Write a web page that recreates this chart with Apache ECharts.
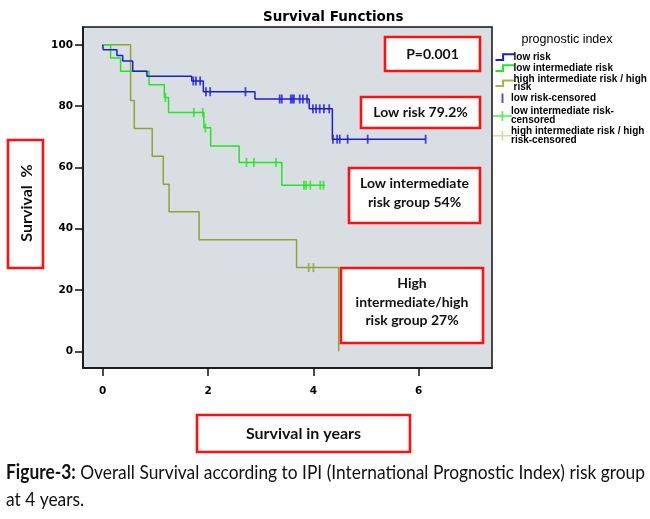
<!DOCTYPE html>
<html>
<head>
<meta charset="utf-8">
<script src="https://cdn.jsdelivr.net/npm/echarts@6/dist/echarts.min.js"></script>
<style>
html, body { margin: 0; padding: 0; background: #fff; }
#chart { width: 650px; height: 519px; }
</style>
</head>
<body>
<div id="chart"></div>
<script>
// survival steps (years, % surviving)
const lowTime = [0, 0.01, 0.27, 0.38, 0.57, 0.84, 1.69, 1.91, 2.89, 3.92, 4.36, 6.13]
const lowSurv = [100, 98.4, 96.5, 94.7, 91.4, 89.7, 88.2, 84.7, 82.3, 79.1, 69.2, 69.2]
const lowCensored = [1.72, 1.77, 1.85, 1.96, 2.04, 2.71, 3.36, 3.40, 3.57, 3.60, 3.63, 3.74, 3.80, 3.88,
    3.99, 4.05, 4.12, 4.20, 4.30, 4.37, 4.45, 4.50, 4.65, 5.03, 6.13]

const midTime = [0, 0.15, 0.34, 0.88, 1.17, 1.25, 1.92, 2.05, 2.59, 3.40, 4.22]
const midSurv = [100, 95.7, 91.4, 87.0, 82.8, 77.9, 72.9, 67.0, 61.6, 54.2, 54.2]
const midCensored = [1.19, 1.73, 1.90, 1.95, 2.73, 2.87, 3.29, 3.82, 3.86, 3.94, 4.13, 4.19]

const highTime = [0, 0.53, 0.60, 0.94, 1.15, 1.26, 1.83, 3.68, 4.48]
const highSurv = [100, 81.8, 72.7, 63.6, 54.5, 45.5, 36.4, 27.3, 0]
const highCensored = [3.91, 4.00]

const xTicks = [0, 2, 4, 6]
const yTicks = [0, 20, 40, 60, 80, 100]

const groupNames = ['low risk', 'low intermediate risk', 'high intermediate risk / high risk']
const censoredNames = ['low risk-censored', 'low intermediate risk-censored', 'high intermediate risk / high risk-censored']

const BLUE = '#1c1ce0'
const GREEN = '#22e622'
const OLIVE = '#8fa33a'
const RED = '#ff1010'

// value of the step curve at time t (censor marks sit on the curve)
function survAt(times, surv, t) {
    let s = surv[0]
    for (let i = 0; i < times.length; i++) {
        if (times[i] <= t) s = surv[i]
    }
    return s
}
const zip = (a, b) => a.map((v, i) => [v, b[i]])

const curves = [
    { time: lowTime, surv: lowSurv, cens: lowCensored, color: BLUE },
    { time: midTime, surv: midSurv, cens: midCensored, color: GREEN },
    { time: highTime, surv: highSurv, cens: highCensored, color: OLIVE }
]

const series = []
curves.forEach((c, i) => {
    series.push({
        type: 'line',
        name: groupNames[i],
        step: 'end',
        symbol: 'none',
        data: zip(c.time, c.surv),
        lineStyle: { color: c.color, width: 1.5 },
        itemStyle: { color: c.color },
        z: 3 - i
    })
})
curves.forEach((c, i) => {
    series.push({
        type: 'scatter',
        name: censoredNames[i],
        symbol: 'rect',
        symbolSize: [1.8, 9],
        data: c.cens.map(t => [t, survAt(c.time, c.surv, t)]),
        itemStyle: { color: c.color },
        z: 4
    })
})

// one small legend per entry so each line sits where it does in the figure
// (tiny corner specks keep every icon the full 20x10 box)
const stepIcon = 'path://M0,8L8,8L8,2L20,2'
const crossIcon = 'path://M0,4.2L20,4.2L20,5.8L0,5.8Z M9,0L10.8,0L10.8,10L9,10Z'
const tickIcon = 'path://M0,0L0.01,0L0,0.01Z M20,10L19.99,10L20,9.99Z M9,0L11,0L11,10L9,10Z'
const legendRows = [
    { name: groupNames[0], label: 'low risk', icon: stepIcon, style: { color: 'none', borderColor: BLUE, borderWidth: 2 }, center: 56.7, lines: 1 },
    { name: groupNames[1], label: 'low intermediate risk', icon: stepIcon, style: { color: 'none', borderColor: GREEN, borderWidth: 2 }, center: 67.7, lines: 1 },
    { name: groupNames[2], label: 'high intermediate risk / high\nrisk', icon: stepIcon, style: { color: 'none', borderColor: '#a7b44e', borderWidth: 2 }, center: 82.5, lines: 2 },
    { name: censoredNames[0], label: 'low risk-censored', icon: tickIcon, style: { color: BLUE, borderWidth: 0 }, center: 98.3, lines: 1 },
    { name: censoredNames[1], label: 'low intermediate risk-\ncensored', icon: crossIcon, style: { color: GREEN, borderWidth: 0 }, center: 115.2, lines: 2 },
    { name: censoredNames[2], label: 'high intermediate risk / high\nrisk-censored', icon: crossIcon, style: { color: '#cdd394', borderWidth: 0 }, center: 135, lines: 2 }
]
const LH = 8.5
const legends = legendRows.map(r => ({
    show: true,
    left: 493,
    top: r.center - Math.max(10, r.lines * LH) / 2,
    padding: 0,
    itemWidth: 19,
    itemHeight: 10,
    selectedMode: false,
    formatter: () => r.label,
    textStyle: { fontFamily: 'Liberation Sans', fontSize: 10, fontWeight: 'bold', lineHeight: LH, color: '#000', padding: [0, 0, 0, -6] },
    data: [{ name: r.name, icon: r.icon, itemStyle: r.style }]
}))

// caption is set in a condensed face in the original; squeeze Lato to the same width
const capLine1 = ' Overall Survival according to IPI (International Prognostic Index) risk group'
const ctx = document.createElement('canvas').getContext('2d')
ctx.font = 'bold 20px Lato'
let capW = ctx.measureText('Figure-3:').width
ctx.font = '20px Lato'
capW += ctx.measureText(capLine1).width
const capScale = 639 / capW

function boxText(x, y, w, h, text, cx, cy, size, lh) {
    return [
        { type: 'rect', shape: { x: x, y: y, width: w, height: h }, style: { fill: '#fff', stroke: RED, lineWidth: 2.6 }, z: 10 },
        { type: 'text', x: cx, y: cy, style: { text: text, fontFamily: 'Lato', fontWeight: 'bold', fontSize: size, lineHeight: lh || size * 1.3, fill: '#111', align: 'center', verticalAlign: 'middle' }, z: 11 }
    ]
}

const graphics = [].concat(
    boxText(385, 37, 95, 34, 'P=0.001', 432.5, 54, 14),
    boxText(361, 97, 119, 31, 'Low risk 79.2%', 420.5, 112.5, 14),
    boxText(349, 168, 131, 55, 'Low intermediate\nrisk group 54%', 414.5, 193, 14, 18.5),
    boxText(341, 268, 142, 75, 'High\nintermediate/high\nrisk group 27%', 412, 302, 14, 18.7),
    boxText(197, 415, 213, 37, 'Survival in years', 303.5, 433.5, 16),
    [
        { type: 'rect', shape: { x: 8, y: 140, width: 35, height: 128 }, style: { fill: '#fff', stroke: RED, lineWidth: 2.6 }, z: 10 },
        { type: 'text', x: 26.5, y: 203, rotation: Math.PI / 2, style: { text: 'Survival  %', fontFamily: 'Lato', fontWeight: 'bold', fontSize: 16, fill: '#111', align: 'center', verticalAlign: 'middle' }, z: 11 },
        { type: 'text', x: 567, y: 40, style: { text: 'prognostic index', fontFamily: 'Liberation Sans', fontSize: 12.5, fill: '#000', align: 'center', verticalAlign: 'middle' } },
        {
            type: 'text', x: 6, y: 473, scaleX: capScale,
            style: {
                text: '{b|Figure-3:}' + capLine1, fontFamily: 'Lato', fontSize: 20, fill: '#111', verticalAlign: 'middle',
                rich: { b: { fontFamily: 'Lato', fontSize: 20, fontWeight: 'bold', fill: '#111' } }
            }
        },
        { type: 'text', x: 6, y: 500, scaleX: capScale, style: { text: 'at 4 years.', fontFamily: 'Lato', fontSize: 20, fill: '#111', verticalAlign: 'middle' } }
    ]
)

const myChart = echarts.init(document.getElementById('chart'))
const options = {
    animation: false,
    backgroundColor: '#fff',
    title: {
        text: 'Survival Functions',
        left: 263,
        top: 10,
        padding: 0,
        textStyle: { fontFamily: 'DejaVu Sans', fontSize: 13.5, fontWeight: 'bold', color: '#000' }
    },
    legend: legends,
    grid: {
        left: 83,
        top: 27,
        width: 409,
        height: 341,
        show: true,
        backgroundColor: '#d8dee2',
        borderColor: '#111',
        borderWidth: 1.5,
        containLabel: false,
        outerBoundsMode: 'none'
    },
    xAxis: {
        type: 'value',
        min: -0.374,
        max: 7.39,
        splitLine: { show: false },
        axisLine: { show: true, onZero: false, lineStyle: { color: '#111', width: 1.5 } },
        axisTick: { show: true, length: 8, lineStyle: { color: '#111', width: 1.5 }, customValues: xTicks },
        axisLabel: { margin: 18, fontFamily: 'DejaVu Sans', fontSize: 10.5, fontWeight: 'bold', color: '#000', customValues: xTicks }
    },
    yAxis: {
        type: 'value',
        min: -5.45,
        max: 105.8,
        splitLine: { show: false },
        axisLine: { show: true, onZero: false, lineStyle: { color: '#111', width: 1.5 } },
        axisTick: { show: true, length: 8, lineStyle: { color: '#111', width: 1.5 }, customValues: yTicks },
        axisLabel: { margin: 10, fontFamily: 'DejaVu Sans', fontSize: 10.5, fontWeight: 'bold', color: '#000', customValues: yTicks }
    },
    graphic: graphics,
    series: series
}
myChart.setOption(options)
</script>
</body>
</html>
